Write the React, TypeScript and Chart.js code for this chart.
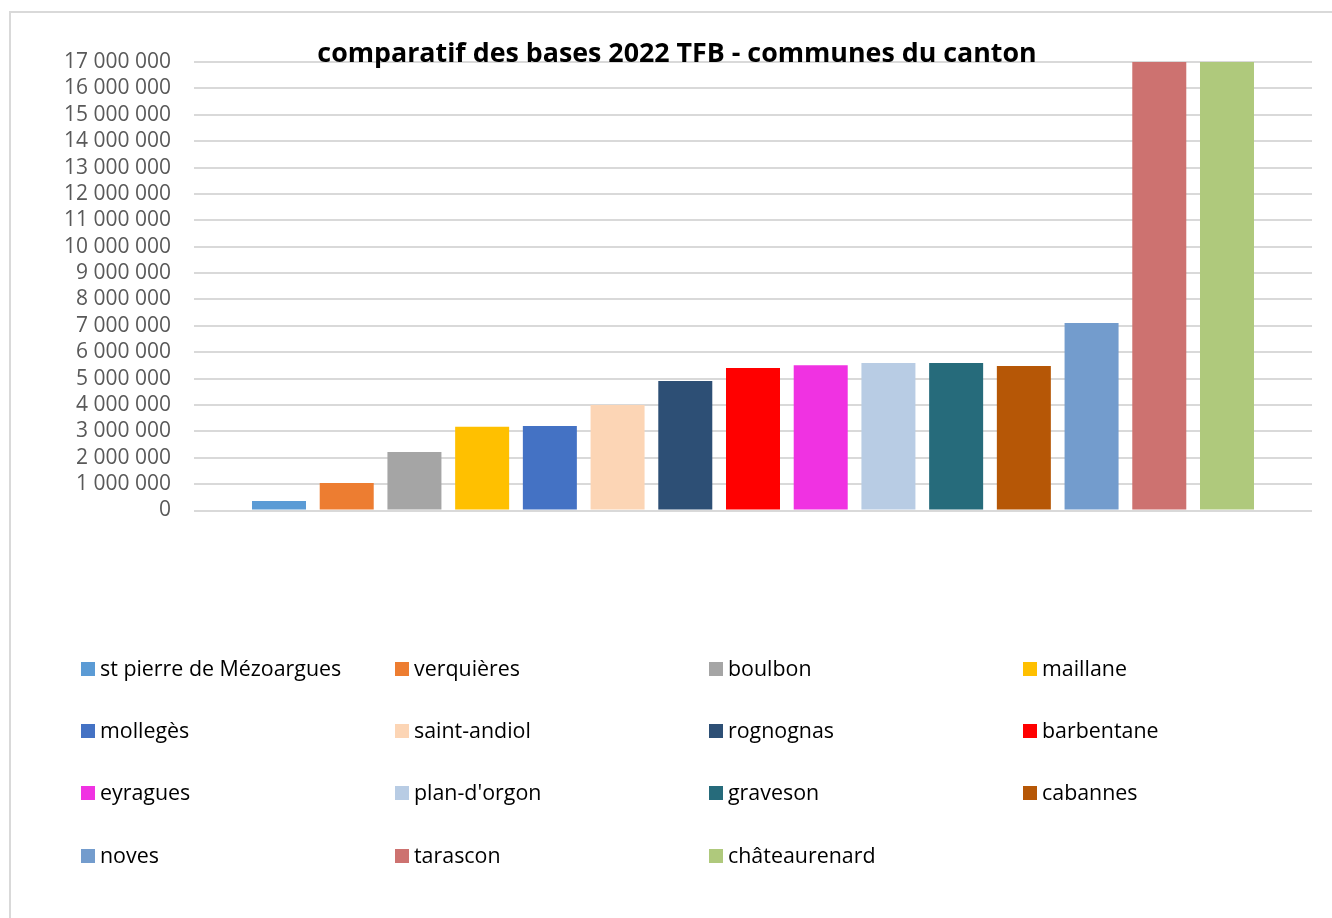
import React, { useEffect, useRef } from "react";
import { Chart, registerables } from "chart.js";

Chart.register(...registerables);

const TITLE = "comparatif des bases 2022 TFB - communes du canton";

const communes = [
  "st pierre de Mézoargues",
  "verquières",
  "boulbon",
  "maillane",
  "mollegès",
  "saint-andiol",
  "rognognas",
  "barbentane",
  "eyragues",
  "plan-d'orgon",
  "graveson",
  "cabannes",
  "noves",
  "tarascon",
  "châteaurenard",
];

const bases = [
  360000, 1040000, 2220000, 3170000, 3200000, 4000000, 4910000, 5400000,
  5510000, 5590000, 5590000, 5480000, 7110000, 20000000, 21000000,
];

const colors = [
  "#5b9bd5", "#ed7d31", "#a5a5a5", "#ffc000", "#4472c4", "#fcd5b5", "#2d4f75",
  "#ff0000", "#f032e2", "#b8cce4", "#266b7b", "#b65706", "#739ccd", "#cd7270",
  "#afc97c",
];

const Y_MAX = 17000000;
const Y_STEP = 1000000;

const W = 1332;
const H = 918;
const FONT = "'Open Sans', 'Noto Sans', sans-serif";

const fmt = (v: number) =>
  Math.round(v)
    .toString()
    .replace(/\B(?=(\d{3})+(?!\d))/g, " ");

const framePlugin = {
  id: "frame",
  beforeDraw(chart: any) {
    const ctx = chart.ctx;
    ctx.save();
    ctx.fillStyle = "#ffffff";
    ctx.fillRect(0, 0, W, H);
    ctx.strokeStyle = "#d9d9d9";
    ctx.lineWidth = 2;
    ctx.beginPath();
    ctx.moveTo(10, H);
    ctx.lineTo(10, 12);
    ctx.lineTo(W, 12);
    ctx.stroke();
    ctx.restore();
  },
};

const titleLegendPlugin = {
  id: "titleLegend",
  afterDraw(chart: any) {
    const ctx = chart.ctx;
    ctx.save();
    ctx.fillStyle = "#000000";
    ctx.font = `bold 26.8px ${FONT}`;
    ctx.textAlign = "center";
    ctx.textBaseline = "alphabetic";
    ctx.fillText(TITLE, 677, 62);

    const colX = [81, 395, 709, 1023];
    const rowY = [669, 731, 793, 856];
    ctx.font = `21.4px ${FONT}`;
    ctx.textAlign = "left";
    ctx.textBaseline = "middle";
    chart.data.datasets.forEach((ds: any, i: number) => {
      const x = colX[i % 4];
      const y = rowY[Math.floor(i / 4)];
      ctx.fillStyle = ds.backgroundColor;
      ctx.fillRect(x, y - 7, 14, 14);
      ctx.fillStyle = "#000000";
      ctx.fillText(ds.label, x + 19, y + 1);
    });
    ctx.restore();
  },
};

export default function App() {
  const ref = useRef<HTMLCanvasElement>(null);

  useEffect(() => {
    if (!ref.current) return;
    const chart = new Chart(ref.current, {
      type: "bar",
      data: {
        labels: [""],
        datasets: communes.map((name, i) => ({
          label: name,
          data: [bases[i]],
          backgroundColor: colors[i],
          borderWidth: 0,
          categoryPercentage: 0.9085,
          barPercentage: 0.7975,
        })),
      },
      options: {
        responsive: false,
        devicePixelRatio: 1,
        animation: false,
        layout: {
          padding: { left: 0, right: 20, top: 62, bottom: 918 - 510.5 },
        },
        plugins: {
          legend: { display: false },
          title: { display: false },
          tooltip: { enabled: false },
        },
        scales: {
          x: {
            ticks: { display: false },
            grid: { display: false },
            border: { display: false },
            afterFit: (s: any) => {
              s.height = 0;
            },
          },
          y: {
            min: 0,
            max: Y_MAX,
            afterFit: (s: any) => {
              s.width = 194;
            },
            ticks: {
              stepSize: Y_STEP,
              autoSkip: false,
              padding: 23,
              color: "#595959",
              font: { family: FONT, size: 21 },
              callback: (v: any) => fmt(Number(v)),
            },
            grid: {
              color: "#d9d9d9",
              lineWidth: 2,
              drawTicks: false,
            },
            border: { display: false },
          },
        },
      },
      plugins: [framePlugin, titleLegendPlugin],
    });
    return () => chart.destroy();
  }, []);

  return (
    <div
      style={{
        position: "fixed",
        left: 0,
        top: 0,
        width: W,
        height: H,
        overflow: "hidden",
        background: "#fff",
      }}
    >
      <canvas ref={ref} width={W} height={H} style={{ width: W, height: H }} />
    </div>
  );
}
